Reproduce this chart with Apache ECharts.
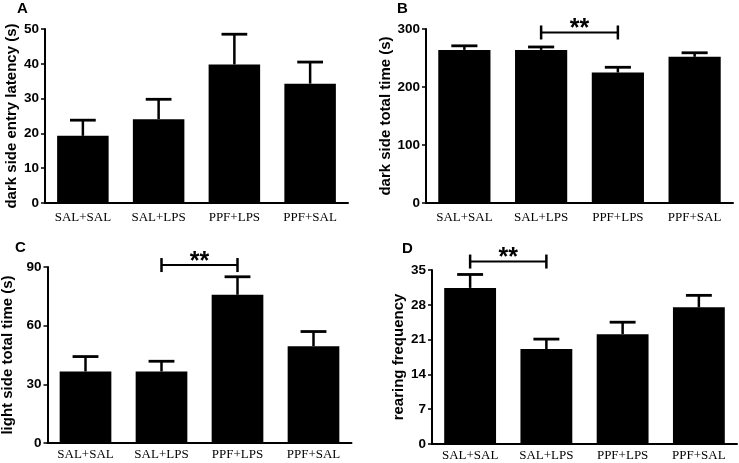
<!DOCTYPE html>
<html>
<head>
<meta charset="utf-8">
<script src="https://cdn.jsdelivr.net/npm/echarts@6/dist/echarts.min.js"></script>
<style>
html,body{margin:0;padding:0;background:#fff;}
#c{width:739px;height:463px;}
</style>
</head>
<body>
<div id="c"></div>
<script>
const categories = ['SAL+SAL', 'SAL+LPS', 'PPF+LPS', 'PPF+SAL'];

const meanA = [19.3, 24.1, 39.8, 34.3];
const errA  = [4.5, 5.7, 8.7, 6.2];
const meanB = [264, 264, 225, 252];
const errB  = [7, 5, 9, 7];
const meanC = [36.6, 36.6, 75.8, 49.5];
const errC  = [7.6, 5.2, 9.2, 7.5];
const meanD = [31.4, 19.1, 22.1, 27.5];
const errD  = [2.7, 2.0, 2.4, 2.4];

const ticksA = [0, 50, 10];
const ticksB = [0, 300, 100];
const ticksC = [0, 90, 30];
const ticksD = [0, 35, 7];

// significance brackets: [from category, to category, level]
const sigB = [[1, 2, 294]];
const sigC = [[1, 2, 91]];
const sigD = [[0, 1, 36.7]];

const panelLetters = ['A', 'B', 'C', 'D'];
const yNames = ['dark side entry latency (s)', 'dark side total time (s)', 'light side total time (s)', 'rearing frequency'];

const grids = [
  {left: 45, top: 29, width: 303, height: 174},
  {left: 426, top: 29, width: 307, height: 174},
  {left: 47.5, top: 267, width: 304, height: 176},
  {left: 432, top: 270, width: 305, height: 174}
];
const nameGaps = [26, 29, 32, 26];
const labelMargins = [8, 8, 5, 5];
const letterPos = [[17, 1], [397, 1], [15, 240], [402, 241]];

const means = [meanA, meanB, meanC, meanD];
const errs = [errA, errB, errC, errD];
const ticks = [ticksA, ticksB, ticksC, ticksD];
const sigs = [null, sigB, sigC, sigD];

function errRender(params, api) {
  const x = api.value(0), m = api.value(1), e = api.value(2);
  const p0 = api.coord([x, m]);
  const p1 = api.coord([x, m + e]);
  const cw = api.size([1, 0])[0] * 0.34;
  return {
    type: 'group',
    children: [
      {type: 'line', shape: {x1: p0[0], y1: p0[1], x2: p1[0], y2: p1[1]}, style: {stroke: '#000', lineWidth: 2.5}},
      {type: 'line', shape: {x1: p1[0] - cw / 2, y1: p1[1], x2: p1[0] + cw / 2, y2: p1[1]}, style: {stroke: '#000', lineWidth: 2.8}}
    ]
  };
}

function sigRender(params, api) {
  const a = api.coord([api.value(0), api.value(2)]);
  const b = api.coord([api.value(1), api.value(2)]);
  const h = 7;
  return {
    type: 'group',
    children: [
      {type: 'line', shape: {x1: a[0], y1: a[1], x2: b[0], y2: b[1]}, style: {stroke: '#000', lineWidth: 2}},
      {type: 'line', shape: {x1: a[0], y1: a[1] - h, x2: a[0], y2: a[1] + h}, style: {stroke: '#000', lineWidth: 2.5}},
      {type: 'line', shape: {x1: b[0], y1: b[1] - h, x2: b[0], y2: b[1] + h}, style: {stroke: '#000', lineWidth: 2.5}},
      {type: 'text', x: (a[0] + b[0]) / 2, y: a[1] - 3, style: {text: '**', fill: '#000', font: 'bold 25px "Liberation Sans", Arial, sans-serif', align: 'center', verticalAlign: 'middle'}}
    ]
  };
}

const option = {
  animation: false,
  backgroundColor: '#fff',
  grid: grids.map(g => Object.assign({containLabel: false, outerBoundsMode: 'none'}, g)),
  graphic: panelLetters.map((t, i) => ({
    type: 'text', left: letterPos[i][0], top: letterPos[i][1],
    style: {text: t, fill: '#000', font: 'bold 15px "Liberation Sans", Arial, sans-serif'}
  })),
  xAxis: grids.map((g, i) => ({
    type: 'category', gridIndex: i, data: categories,
    axisLine: {lineStyle: {color: '#000', width: 2}},
    axisTick: {alignWithLabel: true, length: 4, lineStyle: {color: '#000', width: 1.5}},
    axisLabel: {color: '#000', fontFamily: '"Liberation Serif", "Times New Roman", serif', fontSize: 13, margin: labelMargins[i], interval: 0}
  })),
  yAxis: grids.map((g, i) => ({
    type: 'value', gridIndex: i, min: ticks[i][0], max: ticks[i][1], interval: ticks[i][2],
    name: yNames[i], nameLocation: 'middle', nameGap: nameGaps[i],
    nameTextStyle: {color: '#000', fontFamily: '"Liberation Sans", Arial, sans-serif', fontWeight: 'bold', fontSize: 15},
    splitLine: {show: false},
    axisLine: {show: true, lineStyle: {color: '#000', width: 2}},
    axisTick: {show: true, length: 4, lineStyle: {color: '#000', width: 1.5}},
    axisLabel: {color: '#000', fontFamily: '"Liberation Sans", Arial, sans-serif', fontWeight: 'bold', fontSize: 13.5, margin: 6}
  })),
  series: []
};

for (let i = 0; i < 4; i++) {
  option.series.push({
    type: 'bar', xAxisIndex: i, yAxisIndex: i, data: means[i],
    barWidth: '68%', itemStyle: {color: '#000'}, z: 2
  });
  option.series.push({
    type: 'custom', xAxisIndex: i, yAxisIndex: i, renderItem: errRender, z: 3, clip: false,
    encode: {x: 0, y: 1},
    data: means[i].map((m, k) => [k, m, errs[i][k]])
  });
  if (sigs[i]) {
    option.series.push({
      type: 'custom', xAxisIndex: i, yAxisIndex: i, renderItem: sigRender, z: 4, clip: false,
      encode: {x: 0, y: 2},
      data: sigs[i]
    });
  }
}

const chart = echarts.init(document.getElementById('c'), null, {renderer: 'canvas'});
chart.setOption(option);
</script>
</body>
</html>
